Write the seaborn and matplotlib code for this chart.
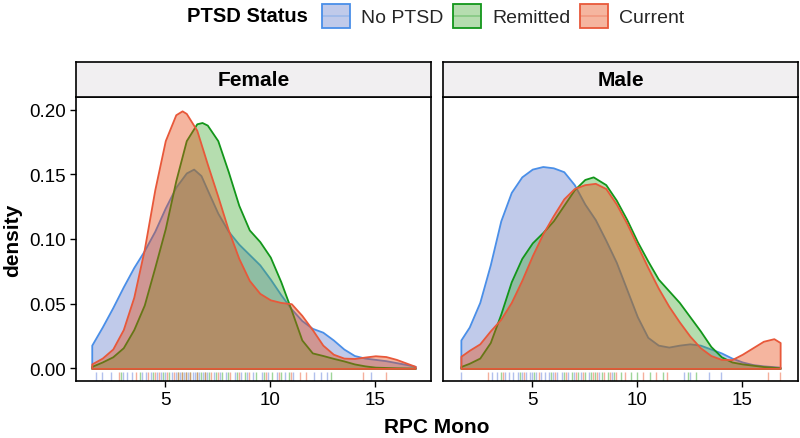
import numpy as np
import pandas as pd
import matplotlib
matplotlib.use("Agg")
import matplotlib.pyplot as plt
import seaborn as sns
from matplotlib.patches import Patch, Rectangle
from matplotlib.lines import Line2D
from matplotlib.legend_handler import HandlerBase
from matplotlib.colors import to_rgba

# ---------------- data ----------------
statuses = ["No PTSD", "Remitted", "Current"]
panels = ["Female", "Male"]
x_ticks = [5, 10, 15]
y_ticks = [0.00, 0.05, 0.10, 0.15, 0.20]

# density curves, Female
f_nop_x = [1.5, 2.0, 2.5, 3.0, 3.5, 4.0, 4.5, 5.0, 5.5, 6.0, 6.35, 6.7, 7.0, 7.5, 8.0, 8.5, 9.0, 9.5, 10.0, 10.5, 11.0, 11.5, 12.0, 12.5, 13.0, 13.5, 14.0, 14.5, 15.0, 15.5, 16.0, 16.5, 16.9]
f_nop_y = [0.018, 0.032, 0.047, 0.063, 0.078, 0.091, 0.106, 0.124, 0.140, 0.151, 0.154, 0.149, 0.138, 0.120, 0.106, 0.096, 0.088, 0.080, 0.069, 0.057, 0.046, 0.037, 0.031, 0.028, 0.022, 0.015, 0.010, 0.008, 0.007, 0.006, 0.0045, 0.003, 0.0016]
f_rem_x = [1.5, 2.0, 2.5, 3.0, 3.5, 4.0, 4.5, 5.0, 5.5, 6.0, 6.5, 6.75, 7.0, 7.5, 8.0, 8.5, 9.0, 9.5, 10.0, 10.5, 11.0, 11.5, 12.0, 12.5, 13.0, 13.5, 14.0, 14.5, 15.0, 16.0, 16.9]
f_rem_y = [0.0016, 0.005, 0.009, 0.016, 0.030, 0.049, 0.078, 0.108, 0.145, 0.176, 0.189, 0.190, 0.188, 0.176, 0.152, 0.126, 0.107, 0.098, 0.086, 0.067, 0.045, 0.022, 0.012, 0.010, 0.0078, 0.0058, 0.0035, 0.002, 0.001, 0.0005, 0.0003]
f_cur_x = [1.5, 2.0, 2.5, 3.0, 3.5, 4.0, 4.5, 5.0, 5.5, 5.8, 6.0, 6.5, 7.0, 7.5, 8.0, 8.5, 9.0, 9.5, 10.0, 10.5, 11.0, 11.5, 12.0, 12.5, 13.0, 13.5, 14.0, 14.5, 15.0, 15.5, 16.0, 16.5, 16.9]
f_cur_y = [0.0035, 0.008, 0.015, 0.030, 0.055, 0.092, 0.138, 0.176, 0.196, 0.199, 0.197, 0.184, 0.158, 0.133, 0.107, 0.085, 0.068, 0.058, 0.053, 0.051, 0.050, 0.041, 0.030, 0.018, 0.011, 0.008, 0.0077, 0.0088, 0.0098, 0.0092, 0.007, 0.004, 0.0016]

# density curves, Male
m_nop_x = [1.6, 2.0, 2.5, 3.0, 3.5, 4.0, 4.5, 5.0, 5.5, 6.0, 6.5, 7.0, 7.5, 8.0, 8.5, 9.0, 9.5, 10.0, 10.5, 11.0, 11.5, 12.0, 12.5, 13.0, 13.5, 14.0, 14.5, 15.0, 15.5, 16.0, 16.8]
m_nop_y = [0.022, 0.032, 0.051, 0.080, 0.114, 0.136, 0.148, 0.154, 0.156, 0.155, 0.152, 0.142, 0.127, 0.115, 0.099, 0.082, 0.061, 0.040, 0.024, 0.018, 0.0165, 0.018, 0.019, 0.018, 0.015, 0.012, 0.008, 0.005, 0.003, 0.002, 0.001]
m_rem_x = [1.6, 2.0, 2.5, 3.0, 3.5, 4.0, 4.5, 5.0, 5.5, 6.0, 6.5, 7.0, 7.5, 7.9, 8.5, 9.0, 9.5, 10.0, 10.5, 11.0, 11.5, 12.0, 12.5, 13.0, 13.5, 14.0, 14.5, 15.0, 15.5, 16.0, 16.8]
m_rem_y = [0.0015, 0.004, 0.008, 0.020, 0.042, 0.067, 0.085, 0.097, 0.105, 0.114, 0.126, 0.138, 0.146, 0.148, 0.142, 0.130, 0.115, 0.098, 0.083, 0.069, 0.060, 0.051, 0.040, 0.029, 0.017, 0.009, 0.005, 0.0035, 0.0025, 0.0015, 0.0005]
m_cur_x = [1.6, 2.0, 2.5, 3.0, 3.5, 4.0, 4.5, 5.0, 5.5, 6.0, 6.5, 7.0, 7.5, 8.0, 8.5, 9.0, 9.5, 10.0, 10.5, 11.0, 11.5, 12.0, 12.5, 13.0, 13.5, 14.0, 14.5, 15.0, 15.5, 16.0, 16.5, 16.8]
m_cur_y = [0.0094, 0.014, 0.019, 0.029, 0.038, 0.051, 0.068, 0.087, 0.104, 0.118, 0.131, 0.139, 0.142, 0.143, 0.139, 0.127, 0.112, 0.095, 0.078, 0.062, 0.048, 0.036, 0.025, 0.016, 0.010, 0.007, 0.0068, 0.011, 0.016, 0.021, 0.023, 0.020]

# rug observations
f_nop_obs = [1.7, 2.0, 2.4, 3.0, 3.2, 3.4, 3.9, 4.1, 4.3, 4.6, 4.8, 5.0, 5.3, 5.5, 5.7, 5.9, 6.1, 6.3, 6.4, 6.6, 6.8, 7.0, 7.3, 7.6, 7.9, 8.3, 8.6, 8.9, 9.2, 9.6, 9.9, 10.3, 10.7, 11.1, 12.1, 12.4, 12.7, 14.8]
f_rem_obs = [2.9, 3.8, 4.4, 4.9, 5.2, 5.6, 5.8, 6.0, 6.2, 6.5, 6.7, 6.9, 7.1, 7.4, 7.7, 8.0, 8.4, 8.8, 9.3, 9.7, 10.1, 10.5, 10.9, 12.9]
f_cur_obs = [2.8, 3.6, 4.2, 4.5, 4.7, 5.1, 5.4, 5.6, 5.8, 6.0, 6.2, 6.5, 6.9, 7.2, 7.5, 8.1, 8.5, 9.0, 9.8, 10.4, 11.0, 11.4, 11.7, 14.4, 15.5]
m_nop_obs = [1.6, 3.1, 3.3, 3.7, 3.9, 4.1, 4.3, 4.5, 4.7, 4.9, 5.0, 5.2, 5.4, 5.6, 5.8, 6.0, 6.2, 6.4, 6.7, 7.0, 7.3, 7.7, 8.2, 8.8, 12.2, 12.5, 13.4, 14.0]
m_rem_obs = [3.5, 4.4, 5.1, 5.9, 6.5, 6.9, 7.2, 7.5, 7.8, 8.0, 8.3, 8.6, 8.9, 9.2, 9.7, 10.0, 10.6, 11.2, 12.4, 12.8]
m_cur_obs = [2.9, 3.6, 4.6, 5.3, 6.1, 6.6, 7.1, 7.4, 7.9, 8.1, 8.4, 8.7, 9.0, 9.4, 10.25, 10.9, 11.4, 16.2, 16.8]

# ---------------- styling ----------------
line_colors = {"No PTSD": "#4A8FE8", "Remitted": "#12961A", "Current": "#E8583A"}
fill_colors = {"No PTSD": "#627BCB", "Remitted": "#46AA39", "Current": "#E64811"}
rug_colors = {"No PTSD": "#7F96E0", "Remitted": "#5DBA55", "Current": "#EE7A5A"}
fill_alpha = 0.4

sns.set_theme(style="ticks")
plt.rcParams["font.family"] = ["Liberation Sans", "DejaVu Sans"]

curves = {
    "Female": {"No PTSD": (f_nop_x, f_nop_y), "Remitted": (f_rem_x, f_rem_y), "Current": (f_cur_x, f_cur_y)},
    "Male": {"No PTSD": (m_nop_x, m_nop_y), "Remitted": (m_rem_x, m_rem_y), "Current": (m_cur_x, m_cur_y)},
}
obs = {
    "Female": {"No PTSD": f_nop_obs, "Remitted": f_rem_obs, "Current": f_cur_obs},
    "Male": {"No PTSD": m_nop_obs, "Remitted": m_rem_obs, "Current": m_cur_obs},
}
rug_df = pd.DataFrame(
    [(p, s, v) for p in panels for s in statuses for v in obs[p][s]],
    columns=["sex", "status", "value"],
)

W, H = 800, 439
fig = plt.figure(figsize=(W / 100, H / 100), dpi=100)
fig.patch.set_facecolor("white")

panel_px = {"Female": (76, 355), "Male": (443, 355)}
top_px, bot_px, strip_top_px = 98, 382, 63

for name in panels:
    x0, w = panel_px[name]
    ax = fig.add_axes([x0 / W, 1 - bot_px / H, w / W, (bot_px - top_px) / H])
    sax = fig.add_axes([x0 / W, 1 - top_px / H, w / W, (top_px - strip_top_px) / H])

    for st in statuses:
        xs, ys = curves[name][st]
        ax.fill_between(np.array(xs), np.array(ys), 0,
                        facecolor=to_rgba(fill_colors[st], fill_alpha),
                        edgecolor=line_colors[st], linewidth=1.3,
                        joinstyle="round", zorder=2)

    sub = rug_df[rug_df["sex"] == name]
    sns.rugplot(data=sub, x="value", hue="status", hue_order=statuses,
                palette=rug_colors, height=0.03, alpha=0.6, linewidth=1.0,
                legend=False, ax=ax)

    ax.set_xlim(0.75, 17.65)
    ax.set_ylim(-0.0097, 0.2097)
    ax.set_xticks(x_ticks)
    ax.set_xticklabels([str(t) for t in x_ticks])
    ax.set_xlabel("")
    ax.set_ylabel("")
    ax.set_facecolor("white")
    ax.grid(False)
    for sp in ax.spines.values():
        sp.set_visible(True)
        sp.set_color("black")
        sp.set_linewidth(1.2)
    ax.tick_params(axis="both", direction="out", length=4, width=1.0,
                   color="black", labelcolor="black", labelsize=13.5, pad=3)
    if name == "Female":
        ax.set_yticks(y_ticks)
        ax.set_yticklabels([f"{t:.2f}" for t in y_ticks])
    else:
        ax.set_yticks([])

    sax.set_xticks([])
    sax.set_yticks([])
    sax.set_facecolor("#F1EFF1")
    for sp in sax.spines.values():
        sp.set_color("black")
        sp.set_linewidth(1.2)
    sax.text(0.5, 0.5, name, ha="center", va="center", fontsize=15,
             fontweight="bold", color="black", transform=sax.transAxes)

fig.text(437 / W, 1 - 428 / H, "RPC Mono", ha="center", va="center",
         fontsize=15, fontweight="bold", color="black")
fig.text(13 / W, 1 - 240 / H, "density", ha="center", va="center",
         rotation=90, fontsize=15, fontweight="bold", color="black")


class KeyHandler(HandlerBase):
    """Legend key: filled square with outline and a faint rug line through it."""
    def create_artists(self, legend, orig_handle, xdescent, ydescent,
                       width, height, fontsize, trans):
        fc = orig_handle.get_facecolor()
        ec = orig_handle.get_edgecolor()
        rect = Rectangle((-xdescent, -ydescent), width, height, facecolor=fc,
                         edgecolor=ec, linewidth=1.3, transform=trans)
        mid = -ydescent + height / 2
        ln = Line2D([-xdescent + 1, -xdescent + width - 1], [mid, mid],
                    color=ec, alpha=0.3, linewidth=1.2, transform=trans)
        return [rect, ln]


# legend
fig.text(187 / W, 1 - 17 / H, "PTSD Status", ha="left", va="center",
         fontsize=14.5, fontweight="bold", color="black")
handles = [Patch(facecolor=to_rgba(fill_colors[st], fill_alpha),
                 edgecolor=line_colors[st]) for st in statuses]
leg = fig.legend(handles, statuses, handler_map={Patch: KeyHandler()},
                 loc="center left", bbox_to_anchor=(322 / W, 1 - 17 / H), ncol=3,
                 frameon=False, fontsize=14, handlelength=1.45, handleheight=1.6,
                 handletextpad=0.55, columnspacing=0.5, borderpad=0, borderaxespad=0)

fig.savefig("out.png", dpi=100, facecolor="white")
